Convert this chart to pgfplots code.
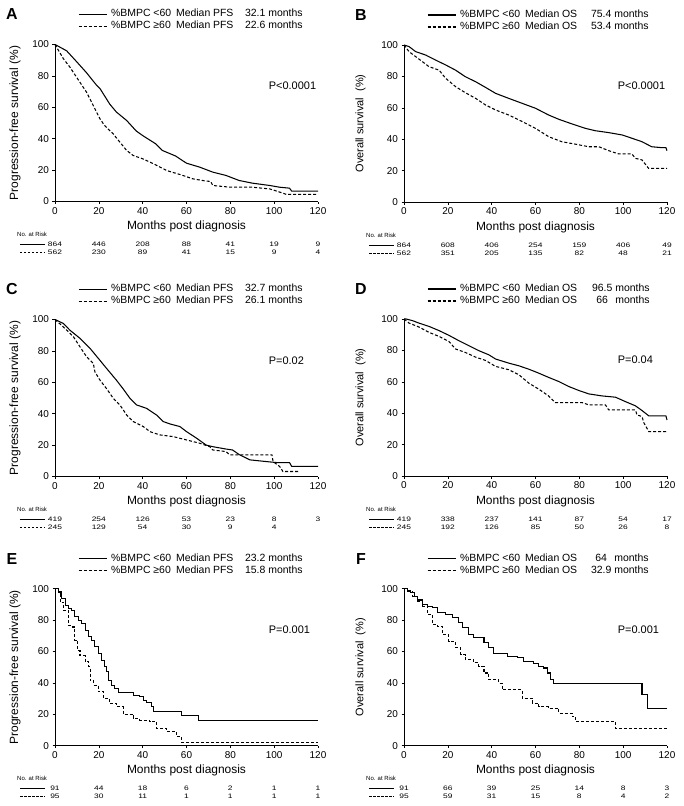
\documentclass[border=0pt]{standalone}
\usepackage{fontspec}
\setmainfont{Liberation Sans}
\usepackage{graphicx}
\usepackage{pgfplots}
\pgfplotsset{compat=1.18}

\newcommand{\fs}[1]{\fontsize{#1}{#1}\selectfont}
\newcommand{\legtxt}[4]{\makebox[65bp][l]{\%BMPC #1}\makebox[37bp][l]{Median}\makebox[#2][l]{#3}#4}

\tikzset{rk/.style={font=\fs{6.5}, anchor=center, inner sep=0pt}}
\pgfplotsset{
  km/.style={
    scale only axis, width=263bp, height=157bp,
    xmin=0, xmax=120, ymin=0, ymax=100,
    axis lines=left, axis line style={-, line width=0.8bp},
    xtick={0,20,...,120}, ytick={0,20,...,100},
    tick align=outside, major tick length=2.5bp,
    tick style={line width=0.6bp, black},
    tick label style={font=\fs{10}},
    /pgf/number format/assume math mode=true,
    clip=false,
    xlabel={Months post diagnosis},
    every axis x label/.style={at={(axis description cs:0.5,-0.16)}, anchor=center, font=\fs{12}},
    every axis y label/.style={at={(axis description cs:-0.152,0.5)}, anchor=center, rotate=90, font=\fs{12}},
    legend style={draw=none, fill=none, at={(axis description cs:0.0875,1.223)}, anchor=north west,
      font=\fs{10.5}, row sep=2bp, inner sep=0pt, outer sep=0pt, column sep=4bp,
      nodes={inner sep=0pt, text height=7.5bp, text depth=2.5bp}},
    legend cell align=left,
    legend image code/.code={\draw[##1] (0bp,0bp) -- (28bp,0bp);},
  },
  os/.style={every axis y label/.style={at={(axis description cs:-0.165,0.5)}, anchor=center, rotate=90, font=\fs{11}}},
  s/.style={black, line width=1.05bp},
  d/.style={black, line width=1.05bp, dash pattern=on 3bp off 2bp},
}

\newcommand{\riskhead}{%
  \node[font=\fs{6}, anchor=west, inner sep=0pt] at ([xshift=-38bp,yshift=-33bp]axis cs:0,0) {No. at Risk};
  \draw[line width=0.8bp] ([xshift=-35bp,yshift=-43bp]axis cs:0,0) -- ([xshift=-10bp,yshift=-43bp]axis cs:0,0);
  \draw[line width=0.8bp, dash pattern=on 2.5bp off 1.5bp] ([xshift=-35bp,yshift=-51bp]axis cs:0,0) -- ([xshift=-10bp,yshift=-51bp]axis cs:0,0);
}
\newcommand{\rs}[1]{\scalebox{1.3}[1]{#1}}
\newcommand{\riskrow}[8]{%
  \node[rk] at ([yshift=#1]axis cs:0,0) {\rs{#2}};
  \node[rk] at ([yshift=#1]axis cs:20,0) {\rs{#3}};
  \node[rk] at ([yshift=#1]axis cs:40,0) {\rs{#4}};
  \node[rk] at ([yshift=#1]axis cs:60,0) {\rs{#5}};
  \node[rk] at ([yshift=#1]axis cs:80,0) {\rs{#6}};
  \node[rk] at ([yshift=#1]axis cs:100,0) {\rs{#7}};
  \node[rk] at ([yshift=#1]axis cs:120,0) {\rs{#8}};
}
\newcommand{\panel}[1]{\node[font=\bfseries\fs{16}, anchor=center] at ([xshift=-43bp,yshift=30bp]axis cs:0,100) {#1};}
\newcommand{\pval}[1]{\node[font=\fs{11}, anchor=west, inner sep=0pt] at (axis cs:97.5,74) {#1};}

\begin{document}
\begin{tikzpicture}
\useasboundingbox (0,0) rectangle (684bp,-806bp);

% ---------------- A ----------------
\begin{axis}[km, at={(55bp,-201.5bp)}, anchor=south west, ylabel={Progression-free survival (\%)}]
\addplot[s] coordinates {(0,100)(2,98.5)(5.3,96)(9.9,89)(14.4,82)(19,74)(20.5,72)(25,62)(28,57)(32.7,51.6)(37,45)(40,42)(46,36.7)(49,32.5)(55,29)(60,24.4)(66,21.9)(72,18.7)(78,16.6)(84,13.4)(90,11.7)(98,10.2)(102.5,9.1)(107,8.5)(108,6.6)(120,6.6)};
\addlegendentry{\legtxt{<60}{32bp}{PFS}{32.1 months}}
\addplot[d] coordinates {(0,100)(3.8,91)(6.8,85.6)(9.9,79)(14.4,69.6)(17.5,61)(20.5,52.7)(22.6,48.4)(26.6,43)(29.6,37.8)(32.7,32.5)(35.7,29.3)(40,27.2)(45,24)(51,19.7)(57,17.2)(63,14.4)(69,13)(71,12.8)(72,10.2)(80,9.1)(90,9.1)(98,8)(102.5,6)(105.6,4.5)(120,4.5)};
\addlegendentry{\legtxt{≥60}{32bp}{PFS}{22.6 months}}
\panel{A}
\pval{P<0.0001}
\riskhead
\riskrow{-43bp}{864}{446}{208}{88}{41}{19}{9}
\riskrow{-51bp}{562}{230}{89}{41}{15}{9}{4}
\end{axis}

% ---------------- B ----------------
\begin{axis}[km, os, at={(404bp,-202bp)}, anchor=south west, ylabel={Overall survival\ \ (\%)}]
\addplot[s] coordinates {(0,100)(2.3,99)(5.3,95.8)(9.9,93.6)(14.4,90.4)(19,87.3)(23.5,84)(28,79.8)(32.7,76.6)(37.2,73)(41.8,69.2)(47.8,66)(54,62.8)(60,59.7)(66,55.4)(70.6,52.7)(76.7,49.7)(82.8,46.9)(87.3,45.4)(93.4,44.2)(99.5,42.7)(104,40.6)(108.6,38.4)(113,35.2)(117.7,34.6)(119.5,34.6)(120,32.7)};
\addlegendentry{\legtxt{<60}{29bp}{OS}{75.4 months}}
\addplot[d] coordinates {(0,100)(2.3,95.8)(5.3,92.6)(8.4,89.4)(11.4,86.2)(16,84)(19,78.8)(23.5,73.5)(28,69.6)(32.7,66)(37.2,61.8)(41.8,58.6)(47.8,55.4)(54,51.2)(60,46.9)(66,41.6)(72,38.4)(78,36.9)(84.3,35.2)(88.9,35.2)(93.4,32.7)(98,30.6)(104,30.6)(105.6,27.8)(108.6,26.8)(111.6,21.4)(120,21.4)};
\addlegendentry{\legtxt{≥60}{29bp}{OS}{53.4 months}}
\panel{B}
\pval{P<0.0001}
\riskhead
\riskrow{-43bp}{864}{608}{406}{254}{159}{406}{49}
\riskrow{-51bp}{562}{351}{205}{135}{82}{48}{21}
\end{axis}

% ---------------- C ----------------
\begin{axis}[km, at={(55bp,-476.5bp)}, anchor=south west, ylabel={Progression-free survival (\%)}]
\addplot[s] coordinates {(0,100)(3.8,97.5)(6.8,93.2)(11.4,88)(16,81.6)(20.5,74)(23.5,68.9)(28,61.4)(31,56)(34.2,49.8)(37.2,45.6)(41.8,43.4)(46.3,39.2)(49.4,35)(52.4,33.5)(57,31.8)(60,28.6)(64.6,24.4)(69,20)(72,19)(78,17.5)(81,16.9)(84,14)(88.9,10.6)(96.5,9.5)(101,8.9)(107,8.9)(108,6.4)(120,6.4)};
\addlegendentry{\legtxt{<60}{32bp}{PFS}{32.7 months}}
\addplot[d] coordinates {(0,100)(3.8,95.3)(8.4,89)(11.4,82.6)(14.4,76.3)(17.5,72)(18.2,66.7)(20.5,61.4)(23.5,56)(26.6,49.8)(29.6,45.6)(32.7,39.2)(35.7,35)(40.3,31.8)(43.3,28.6)(47.8,26.5)(54,25.4)(60,23.3)(66,21.2)(70.6,19)(72,16.9)(78,15.9)(79.7,13.8)(99,13.8)(99.5,9.5)(102.5,6.4)(104,3.2)(111.7,3.2)};
\addlegendentry{\legtxt{≥60}{32bp}{PFS}{26.1 months}}
\panel{C}
\pval{P=0.02}
\riskhead
\riskrow{-43bp}{419}{254}{126}{53}{23}{8}{3}
\riskrow{-51bp}{245}{129}{54}{30}{9}{4}{}
\end{axis}

% ---------------- D ----------------
\begin{axis}[km, os, at={(404bp,-476bp)}, anchor=south west, ylabel={Overall survival\ \ (\%)}]
\addplot[s] coordinates {(0,100)(1,100)(3.8,99)(6.8,97.4)(11.4,95.3)(16,92.6)(20.5,89.6)(25,86.2)(29.6,83)(34.2,79.8)(38.7,77.2)(41.8,74.5)(47.8,71.9)(52.4,70.2)(57,68)(61.5,65.5)(66,62.8)(70.6,60.2)(75.2,57)(79.7,54.5)(84.3,52.3)(90.4,51)(96.5,50.2)(101,47.4)(105.6,44.7)(108.6,41.7)(111.7,38.3)(119.5,38.3)(120,35.7)};
\addlegendentry{\legtxt{<60}{30bp}{OS}{96.5 months}}
\addplot[d] coordinates {(0,100)(2.3,97.4)(6.8,94.9)(11.4,91.5)(16,88.9)(20.5,85.7)(23.5,80.9)(28,78.7)(32.7,75.7)(37.2,73.6)(41.8,69.8)(47.8,67.7)(52.4,64.5)(57,59.1)(61.5,55.3)(66,51)(69,46.8)(81.2,46.8)(84.3,45.3)(91.9,45.3)(93.4,42.1)(105.6,42.1)(106.3,38.9)(108.6,37.9)(109.4,34)(111.7,28.3)(120,28.3)};
\addlegendentry{\legtxt{≥60}{30bp}{OS}{\makebox[20.4bp][c]{66} months}}
\panel{D}
\pval{P=0.04}
\riskhead
\riskrow{-43bp}{419}{338}{237}{141}{87}{54}{17}
\riskrow{-51bp}{245}{192}{126}{85}{50}{26}{8}
\end{axis}

% ---------------- E ----------------
\begin{axis}[km, at={(55bp,-745.7bp)}, anchor=south west, ylabel={Progression-free survival (\%)}]
\addplot[s, const plot] coordinates {(0,100)(1.5,97.9)(3,93.6)(4.6,89.4)(6.1,87.3)(7.6,86.2)(9.1,82)(10.6,79.9)(12.2,77.8)(13.7,73.5)(15.2,69.3)(16.7,67.2)(18.2,63)(19.7,58.7)(21.3,54.5)(22.8,50.2)(23.5,47)(24.3,41.7)(25.8,38.6)(27.3,36.4)(28.9,33.7)(35.7,32.2)(38.7,31.1)(40.3,29)(41.8,27.3)(44,24.8)(44.8,21.6)(57.7,19.5)(65.3,16.3)(120,16.3)};
\addlegendentry{\legtxt{<60}{32bp}{PFS}{23.2 months}}
\addplot[d, const plot] coordinates {(0,100)(1.5,96.8)(2.3,91.5)(3.8,86.2)(6.1,76.7)(7.6,75.6)(9.1,67.2)(10.2,60.8)(11.4,57.6)(13.7,53.4)(15.2,50.2)(16,41.7)(17.5,38.6)(19.7,34.3)(22,30)(25,26.9)(28,24.8)(31.1,20.1)(35.7,17.4)(38.7,16.3)(43.3,15.3)(46.3,11)(50.9,8.9)(55.4,5.7)(57.7,1.9)(120,1.9)};
\addlegendentry{\legtxt{≥60}{32bp}{PFS}{15.8 months}}
\panel{E}
\pval{P=0.001}
\riskhead
\riskrow{-43bp}{91}{44}{18}{6}{2}{1}{1}
\riskrow{-51bp}{95}{30}{11}{1}{1}{1}{1}
\end{axis}

% ---------------- F ----------------
\begin{axis}[km, os, at={(404bp,-745.7bp)}, anchor=south west, ylabel={Overall survival\ \ (\%)}]
\addplot[s, const plot] coordinates {(0,100)(1.5,99)(3,97.4)(4.6,95.3)(6.1,92.8)(8.4,90)(10.6,88.9)(12.9,87.8)(15.2,85.1)(19,83.6)(22,81.4)(25,78.3)(26.6,75.1)(29.6,70.8)(31.9,68.7)(36.5,65.5)(38.7,62.3)(41,58.6)(47.1,56.9)(51.6,55.9)(54.7,53.7)(59.2,52.2)(61.5,50.5)(63.8,49.5)(65.3,46.3)(66.8,42)(68.4,39.9)(108.6,32.4)(110.9,23.9)(120,23.9)};
\addlegendentry{\legtxt{<60}{29bp}{OS}{\makebox[20.4bp][c]{64} months}}
\addplot[d, const plot] coordinates {(0,100)(1.5,98.5)(3.8,95.3)(6.1,92.1)(8.4,88.9)(10.6,83.6)(12.9,77.2)(15.2,75.7)(17.5,70.8)(20.5,66.5)(23.5,62.3)(25.8,58)(28,54.8)(31.9,52.7)(34.2,50.5)(36.5,46.3)(38.7,42)(43.3,39.9)(44.8,35.6)(53.9,30.3)(58.5,27.1)(61.5,24.9)(66,23.9)(70.6,20.7)(76.7,18.6)(78.2,15.4)(96.5,10.7)(120,10.7)};
\addlegendentry{\legtxt{≥60}{29bp}{OS}{32.9 months}}
\panel{F}
\pval{P=0.001}
\riskhead
\riskrow{-43bp}{91}{66}{39}{25}{14}{8}{3}
\riskrow{-51bp}{95}{59}{31}{15}{8}{4}{2}
\end{axis}
\end{tikzpicture}
\end{document}
